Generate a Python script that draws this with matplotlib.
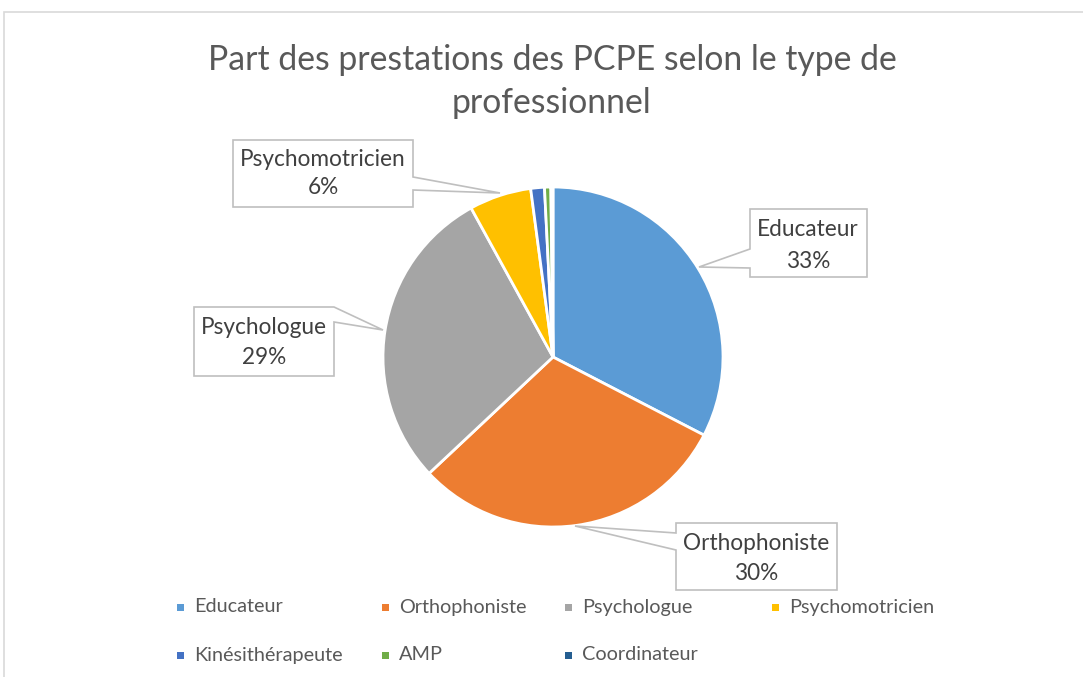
import matplotlib
matplotlib.use("Agg")
import matplotlib.pyplot as plt
from matplotlib.patches import Polygon, Rectangle

# ---- data ----
categories = ["Educateur", "Orthophoniste", "Psychologue", "Psychomotricien",
              "Kinésithérapeute", "AMP", "Coordinateur"]
values = [32.6, 30.4, 29.0, 5.9, 1.3, 0.6, 0.2]
colors = ["#5B9BD5", "#ED7D31", "#A5A5A5", "#FFC000", "#4472C4", "#70AD47", "#255E91"]
title_lines = ["Part des prestations des PCPE selon le type de", "professionnel"]

# ---- layout ----
W, H = 1083, 677
plt.rcParams['font.family'] = ['Lato', 'DejaVu Sans']
fig = plt.figure(figsize=(W / 100, H / 100), dpi=100)
ax = fig.add_axes([0, 0, 1, 1])


def Y(y):
    return H - y


renderer = fig.canvas.get_renderer()


def fit(text, target_px, base=20):
    t = fig.text(0, 0, text, fontsize=base)
    w = t.get_window_extent(renderer).width
    t.remove()
    return base * target_px / w


title_fs = fit(title_lines[0], 691)
legend_fs = fit("Psychomotricien", 145)
label_fs = fit("Psychomotricien", 166)

# chart border
ax.add_patch(Rectangle((4, Y(700)), 1200, 688, facecolor='none',
                       edgecolor='#D9D9D9', linewidth=1.2, zorder=0))

wedges, _ = ax.pie(values, colors=colors, startangle=90, counterclock=False,
                   center=(553, Y(357)), radius=170,
                   wedgeprops=dict(edgecolor='white', linewidth=2))
ax.set_xlim(0, W)
ax.set_ylim(0, H)
ax.set_aspect('auto')
ax.axis('off')

# title
ax.text(552, Y(60), title_lines[0], fontsize=title_fs, color='#595959',
        ha='center', va='center')
ax.text(552, Y(103), title_lines[1], fontsize=title_fs, color='#595959',
        ha='center', va='center')

# data label callouts (pixel layout)
callouts = {
    "Educateur": dict(poly=[(750, 209), (867, 209), (867, 277), (750, 277),
                            (750, 268), (699, 267), (750, 249)],
                      cx=808, ys=(229, 261)),
    "Orthophoniste": dict(poly=[(676, 523), (837, 523), (837, 590), (676, 590),
                                (676, 550), (575, 526), (676, 533)],
                          cx=756, ys=(544, 573)),
    "Psychologue": dict(poly=[(194, 307), (334, 307), (383, 330), (334, 322),
                              (334, 376), (194, 376)],
                        cx=264, ys=(327, 358)),
    "Psychomotricien": dict(poly=[(233, 140), (413, 140), (413, 177), (500, 193),
                                  (413, 190), (413, 207), (233, 207)],
                            cx=323, ys=(160, 188)),
}
total = sum(values)
for name, v in zip(categories, values):
    if name not in callouts:
        continue
    c = callouts[name]
    pts = [(x, Y(y)) for x, y in c["poly"]]
    ax.add_patch(Polygon(pts, closed=True, facecolor='white',
                         edgecolor='#BFBFBF', linewidth=1.2, zorder=5))
    pct = round(v / total * 100)
    ax.text(c["cx"], Y(c["ys"][0]), name, fontsize=label_fs, color='#404040',
            ha='center', va='center', zorder=6)
    ax.text(c["cx"], Y(c["ys"][1]), f"{pct}%", fontsize=label_fs, color='#404040',
            ha='center', va='center', zorder=6)

# legend (manual layout)
leg_pos = [(180, 607), (385, 607), (568, 607), (775, 607),
           (180, 655), (385, 655), (568, 655)]
for (x, y), name, col in zip(leg_pos, categories, colors):
    ax.add_patch(Rectangle((x - 3.5, Y(y) - 3.5), 7, 7, facecolor=col,
                           edgecolor='none'))
    ax.text(x + 14, Y(y), name, fontsize=legend_fs, color='#595959',
            ha='left', va='center')

fig.savefig("out.png", dpi=100, facecolor='white')
